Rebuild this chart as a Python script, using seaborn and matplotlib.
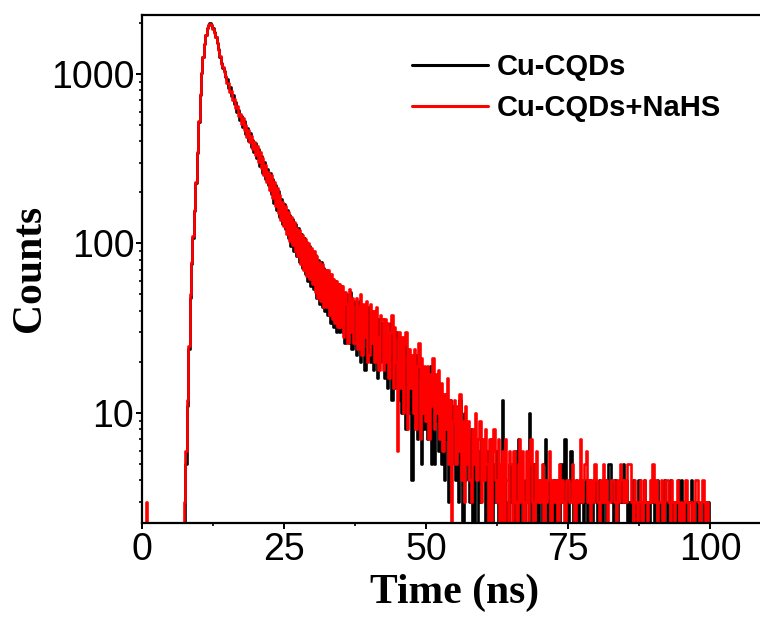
import numpy as np
import pandas as pd
import matplotlib
matplotlib.use("Agg")
import matplotlib.pyplot as plt
import matplotlib.ticker as mticker
import seaborn as sns

# ---- data: counts per 0.25 ns channel ----
time_step = 0.25
series_names = ["Cu-CQDs", "Cu-CQDs+NaHS"]

black_counts = (
    [0] * 30 +                                                   # 0 - 7.25
    [2, 5, 11, 24, 48, 76, 108, 156, 226, 342] +                 # 7.5
    [520, 752, 1008, 1268, 1512, 1702, 1858, 1948, 1992, 1948] + # 10
    [1862, 1768, 1652, 1528, 1398, 1262, 1168, 1082, 1038, 958] +  # 12.5
    [935, 830, 840, 740, 755, 665, 685, 595, 615, 535] +         # 15
    [568, 486, 530, 440, 482, 405, 448, 372, 410, 345] +         # 17.5
    [392, 318, 362, 285, 330, 262, 304, 240, 276, 220] +         # 20
    [262, 196, 240, 174, 222, 158, 204, 144, 184, 130] +         # 22.5
    [170, 122, 158, 108, 148, 96, 140, 90, 130, 84] +            # 25
    [124, 78, 114, 72, 108, 66, 102, 60, 96, 56] +               # 27.5
    [90, 54, 86, 48, 80, 44, 78, 42, 72, 40] +                   # 30
    [70, 38, 66, 34, 62, 32, 60, 30, 58, 30] +                   # 32.5
    [56, 30, 52, 26, 50, 32, 26, 52, 24, 46] +                   # 35
    [44, 22, 40, 46, 20, 42, 24, 18, 40, 22] +                   # 37.5
    [42, 20, 38, 18, 40, 22, 16, 36, 20, 34] +                   # 40
    [34, 16, 32, 14, 30, 34, 12, 28, 14, 30] +                   # 42.5
    [28, 12, 26, 10, 24, 28, 8, 24, 10, 22] +                    # 45
    [4, 20, 9, 22, 7, 19, 16, 5, 17, 8] +                        # 47.5
    [17, 7, 14, 19, 5, 15, 5, 16, 9, 6] +                        # 50
    [14, 5, 12, 4, 13, 7, 3, 12, 5, 11] +                        # 52.5
    [11, 4, 10, 3, 12, 5, 2, 10, 4, 8] +                         # 55
    [7, 3, 8, 2, 7, 1, 1, 6, 3, 7] +                             # 57.5
    [5, 7, 2, 6, 2, 4, 7, 1, 5, 3] +                             # 60
    [6, 2, 4, 1, 12, 5, 2, 3, 1, 5] +                            # 62.5
    [3, 5, 1, 6, 3, 7, 2, 4, 3, 1] +                             # 65
    [4, 3, 6, 10, 2, 1, 5, 3, 4, 2] +                            # 67.5
    [3, 4, 2, 5, 7, 3, 1, 4, 3, 2] +                             # 70
    [4, 1, 3, 4, 2, 5, 3, 4, 7, 3] +                             # 72.5
    [2, 4, 6, 3, 1, 3, 4, 2, 3, 4] +                             # 75
    [3, 1, 4, 3, 2, 4, 3, 1, 3, 4] +                             # 77.5
    [3, 2, 4, 3, 1, 3, 4, 2, 3, 5] +                             # 80
    [5, 3, 1, 4, 3, 2, 3, 4, 3, 5] +                             # 82.5
    [3, 4, 2, 3, 1, 3, 4, 3, 2, 3] +                             # 85
    [4, 1, 3, 3, 4, 2, 3, 1, 3, 4] +                             # 87.5
    [3, 2, 3, 4, 1, 3, 3, 2, 4, 3] +                             # 90
    [1, 3, 4, 3, 2, 3, 1, 3, 4, 3] +                             # 92.5
    [4, 3, 2, 3, 1, 3, 3, 4, 2, 3] +                             # 95
    [3, 2, 3, 1, 3, 3, 2, 3, 3, 3] +                             # 97.5
    [0] * 41                                                     # 100 - 110
)

red_counts = (
    [0, 0, 0, 3] + [0] * 26 +                                    # 0 - 7.25
    [3, 6, 12, 25, 50, 78, 110, 158, 230, 345] +                 # 7.5
    [526, 760, 1015, 1262, 1505, 1695, 1865, 1955, 1985, 1955] + # 10
    [1855, 1755, 1665, 1515, 1385, 1275, 1150, 1095, 1022, 970] +  # 12.5
    [880, 880, 785, 790, 700, 715, 632, 645, 568, 585] +         # 15
    [510, 548, 470, 500, 425, 466, 395, 428, 360, 398] +         # 17.5
    [332, 378, 302, 345, 278, 318, 254, 292, 230, 264] +         # 20
    [206, 252, 186, 232, 166, 212, 152, 194, 138, 176] +         # 22.5
    [126, 166, 114, 154, 104, 144, 98, 134, 90, 124] +           # 25
    [84, 120, 76, 112, 70, 106, 64, 100, 62, 94] +               # 27.5
    [58, 90, 52, 84, 48, 78, 46, 76, 42, 70] +                   # 30
    [42, 70, 38, 66, 36, 62, 34, 60, 32, 58] +                   # 32.5
    [32, 56, 28, 52, 44, 26, 54, 30, 48, 26] +                   # 35
    [26, 48, 24, 42, 50, 22, 44, 28, 46, 20] +                   # 37.5
    [22, 44, 26, 40, 20, 42, 28, 18, 38, 36] +                   # 40
    [18, 36, 20, 34, 16, 30, 38, 14, 32, 20] +                   # 42.5
    [6, 30, 14, 28, 10, 26, 30, 8, 24, 14] +                     # 45
    [22, 10, 24, 8, 19, 26, 7, 21, 10, 19] +                     # 47.5
    [9, 19, 7, 17, 11, 21, 8, 17, 10, 18] +                      # 50
    [7, 15, 6, 13, 8, 16, 5, 12, 1, 9] +                         # 52.5
    [12, 5, 11, 6, 13, 4, 9, 3, 11, 5] +                         # 55
    [9, 4, 3, 8, 5, 10, 4, 7, 9, 3] +                            # 57.5
    [7, 4, 8, 5, 2, 7, 2, 6, 8, 4] +                             # 60
    [3, 7, 2, 5, 6, 1, 7, 4, 2, 6] +                             # 62.5
    [5, 2, 6, 3, 1, 5, 7, 3, 6, 2] +                             # 65
    [3, 6, 2, 5, 7, 3, 1, 5, 6, 3] +                             # 67.5
    [4, 3, 5, 2, 4, 3, 4, 6, 1, 4] +                             # 70
    [3, 4, 4, 2, 5, 3, 4, 3, 1, 4] +                             # 72.5
    [4, 3, 3, 5, 4, 2, 4, 3, 4, 7] +                             # 75
    [3, 4, 5, 6, 3, 4, 2, 4, 3, 5] +                             # 77.5
    [4, 3, 2, 4, 3, 5, 3, 4, 1, 3] +                             # 80
    [3, 4, 4, 3, 2, 4, 3, 5, 4, 3] +                             # 82.5
    [4, 3, 5, 5, 5, 3, 2, 4, 3, 1] +                             # 85
    [3, 4, 2, 3, 4, 3, 1, 3, 4, 3] +                             # 87.5
    [5, 3, 4, 2, 3, 3, 4, 1, 3, 4] +                             # 90
    [4, 3, 2, 4, 3, 1, 3, 4, 3, 2] +                             # 92.5
    [3, 1, 3, 4, 3, 2, 3, 3, 1, 3] +                             # 95
    [4, 4, 3, 2, 3, 4, 3, 1, 3, 0] +                             # 97.5
    [0] * 41                                                     # 100 - 110
)

x_ticks = [0, 25, 50, 75, 100]
y_ticks = [10, 100, 1000]
y_tick_labels = ["10", "100", "1000"]

# ---- build long table ----
frames = []
for name, counts in zip(series_names, [black_counts, red_counts]):
    frames.append(pd.DataFrame({
        "time": np.arange(len(counts)) * time_step,
        "counts": counts,
        "sample": name,
    }))
df = pd.concat(frames, ignore_index=True)

sns.set_style("ticks")
plt.rcParams["font.family"] = ["Liberation Sans", "DejaVu Sans"]
plt.rcParams["text.color"] = "black"
plt.rcParams["axes.labelcolor"] = "black"
plt.rcParams["xtick.color"] = "black"
plt.rcParams["ytick.color"] = "black"

W, H = 760, 617
fig = plt.figure(figsize=(W / 100, H / 100), dpi=100)
left_px, bottom_px, top_px = 142, 522.7, 14.7
px_per_ns = 5.68
xmax = 110
right_px = left_px + xmax * px_per_ns
ax = fig.add_axes([left_px / W, 1 - bottom_px / H,
                   (right_px - left_px) / W, (bottom_px - top_px) / H])

sns.lineplot(data=df, x="time", y="counts", hue="sample",
             palette={"Cu-CQDs": "#000000", "Cu-CQDs+NaHS": "#ff0000"},
             estimator=None, drawstyle="steps-mid", linewidth=1.9,
             ax=ax, legend=True)

ax.set_yscale("log", nonpositive="clip")
ax.set_xlim(0, xmax)
ax.set_ylim(2.25, 2240)

ax.set_xticks(x_ticks)
ax.set_xticklabels([str(v) for v in x_ticks])
ax.xaxis.set_minor_locator(mticker.MultipleLocator(12.5))
ax.set_yticks(y_ticks)
ax.set_yticklabels(y_tick_labels)
ax.yaxis.set_minor_locator(mticker.LogLocator(base=10, subs=np.arange(2, 10)))
ax.yaxis.set_minor_formatter(mticker.NullFormatter())

for s in ["left", "bottom", "top"]:
    ax.spines[s].set_linewidth(1.6)
    ax.spines[s].set_color("black")
ax.spines["right"].set_visible(False)

ax.tick_params(axis="both", which="major", direction="out", length=4.5,
               width=1.4, labelsize=27, pad=2, colors="black")
ax.tick_params(axis="both", which="minor", direction="out", length=2.5,
               width=1.2, colors="black")
ax.tick_params(axis="y", which="major", pad=1)

ax.set_xlabel("Time (ns)", family=["Liberation Serif", "DejaVu Serif"],
              fontsize=30, fontweight="bold", labelpad=4, color="black")
ax.set_ylabel("Counts", family=["Liberation Serif", "DejaVu Serif"],
              fontsize=30, fontweight="bold", labelpad=1, color="black")

handles, labels = ax.get_legend_handles_labels()
leg = ax.legend(handles, labels, loc="center left",
                bbox_to_anchor=(412 / W, 1 - 87.5 / H),
                bbox_transform=fig.transFigure, frameon=False,
                prop={"family": "Liberation Sans", "weight": "bold", "size": 21},
                handlelength=2.6, handletextpad=0.3, labelspacing=0.45,
                borderpad=0, borderaxespad=0, labelcolor="black")
for h in leg.get_lines():
    h.set_linewidth(2.2)

fig.savefig("out.png", dpi=100)
